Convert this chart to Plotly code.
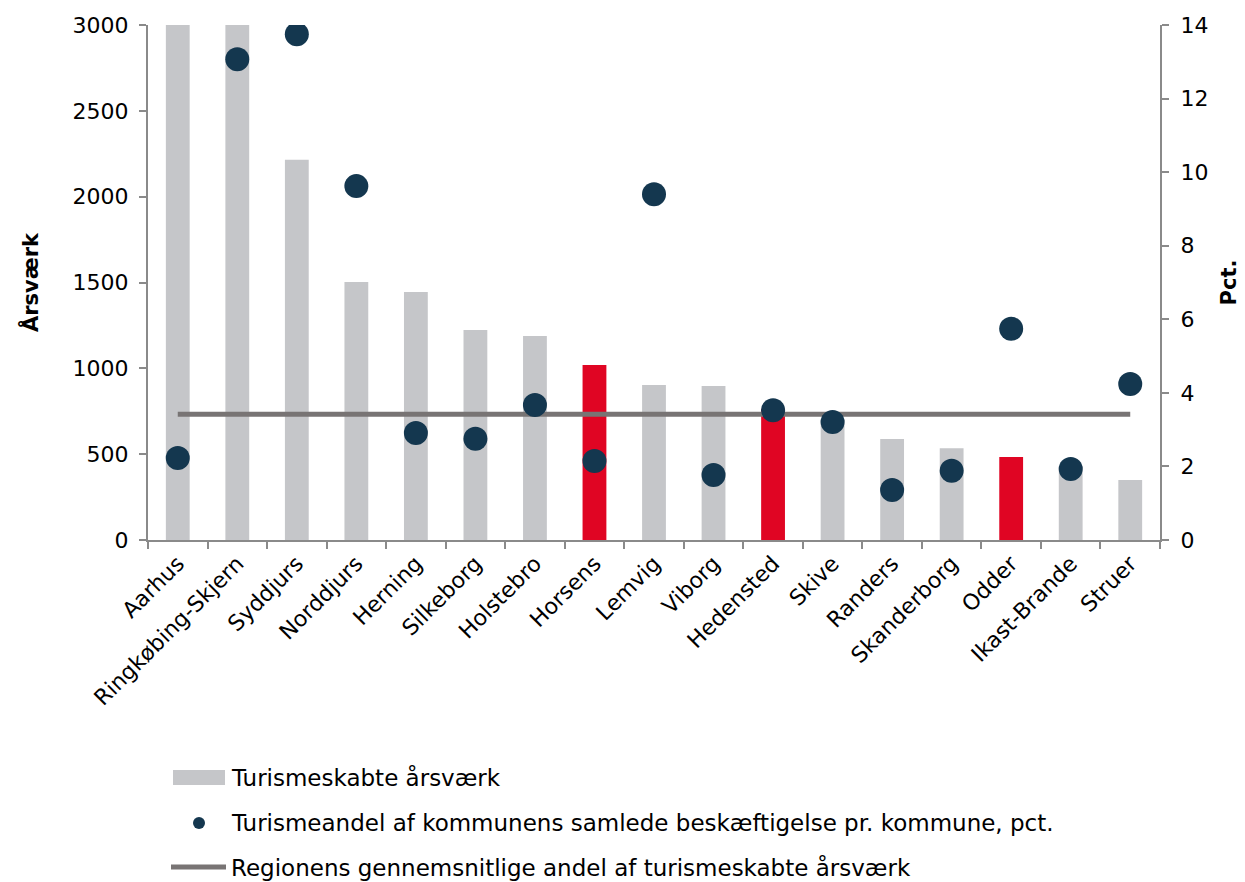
import plotly.graph_objects as go

kommuner = ["Aarhus", "Ringkøbing-Skjern", "Syddjurs", "Norddjurs", "Herning", "Silkeborg",
            "Holstebro", "Horsens", "Lemvig", "Viborg", "Hedensted", "Skive", "Randers",
            "Skanderborg", "Odder", "Ikast-Brande", "Struer"]
aarsvaerk = [3000, 3000, 2215, 1503, 1445, 1223, 1188, 1019, 903, 897, 765, 700, 588,
             535, 483, 430, 350]
andel_pct = [2.23, 13.07, 13.75, 9.62, 2.91, 2.75, 3.67, 2.15, 9.40, 1.77, 3.53, 3.21,
             1.36, 1.88, 5.74, 1.93, 4.24]
highlight = ["Horsens", "Hedensted", "Odder"]
region_avg = 3.42

GREY = "#c5c6c9"
RED = "#e00523"
NAVY = "#14374f"
LINE = "#787474"
AXIS = "#8a8a8a"
FONT = "DejaVu Sans"

bar_colors = [RED if k in highlight else GREY for k in kommuner]

fig = go.Figure()
fig.add_trace(go.Bar(x=kommuner, y=aarsvaerk, marker=dict(color=bar_colors, line=dict(width=0)),
                     width=0.4, name="Turismeskabte årsværk", showlegend=False))
fig.add_trace(go.Scatter(x=[kommuner[0], kommuner[-1]], y=[region_avg, region_avg], yaxis="y2",
                         mode="lines", line=dict(color=LINE, width=5),
                         name="Regionens gennemsnitlige andel af turismeskabte årsværk", showlegend=False))
fig.add_trace(go.Scatter(x=kommuner, y=andel_pct, yaxis="y2", mode="markers",
                         marker=dict(color=NAVY, size=24),
                         name="Turismeandel af kommunens samlede beskæftigelse pr. kommune, pct.",
                         showlegend=False))

# page has an 8px body margin, so the figure is 8px smaller and shifted
fig.update_layout(
    width=1237, height=874,
    margin=dict(l=140, r=85, t=17, b=342, autoexpand=False),
    paper_bgcolor="white", plot_bgcolor="white",
    font=dict(family=FONT, size=21, color="black"),
    xaxis=dict(range=[-0.5, len(kommuner) - 0.5], showline=True, linecolor=AXIS, linewidth=2,
               ticks="outside", tickson="boundaries",
               ticklen=7, tickcolor=AXIS, tickwidth=2, tickangle=-45, showgrid=False,
               tickfont=dict(size=22), automargin=False),
    yaxis=dict(range=[0, 3000], tickvals=[0, 500, 1000, 1500, 2000, 2500, 3000], showgrid=False,
               showline=True, linecolor=AXIS, linewidth=2, ticks="outside", ticklen=7,
               tickcolor=AXIS, tickwidth=2, zeroline=False, tickfont=dict(size=22), automargin=False,
               ticklabelstandoff=6,
               title=dict(text="<b>Årsværk</b>", font=dict(size=21), standoff=28)),
    yaxis2=dict(range=[0, 14], tickvals=[0, 2, 4, 6, 8, 10, 12, 14], overlaying="y", side="right",
                showgrid=False, showline=True, linecolor=AXIS, linewidth=2, ticks="outside",
                ticklen=7, tickcolor=AXIS, tickwidth=2, zeroline=False, tickfont=dict(size=22),
                automargin=False, ticklabelstandoff=7,
                title=dict(text="<b>Pct.</b>", font=dict(size=21), standoff=14)),
)

# custom legend (paper coordinates, converted from page pixels)
def px(x):
    return (x - 148) / (1160 - 148)
def py(y):
    return (540 - y) / (540 - 25)

fig.add_shape(type="rect", xref="paper", yref="paper", x0=px(173), x1=px(225), y0=py(785), y1=py(770),
              fillcolor=GREY, line=dict(width=0))
fig.add_shape(type="circle", xref="paper", yref="paper", x0=px(193), x1=px(205), y0=py(829), y1=py(817),
              fillcolor=NAVY, line=dict(width=0))
fig.add_shape(type="line", xref="paper", yref="paper", x0=px(171), x1=px(226), y0=py(867), y1=py(867),
              line=dict(color=LINE, width=5))
legend_texts = ["Turismeskabte årsværk",
                "Turismeandel af kommunens samlede beskæftigelse pr. kommune, pct.",
                "Regionens gennemsnitlige andel af turismeskabte årsværk"]
for t, yy in zip(legend_texts, [777, 823, 867]):
    fig.add_annotation(text=t, xref="paper", yref="paper", x=px(229), y=py(yy), xanchor="left",
                       yanchor="middle", showarrow=False, font=dict(size=23, color="black"))

fig.write_html("out.html")
